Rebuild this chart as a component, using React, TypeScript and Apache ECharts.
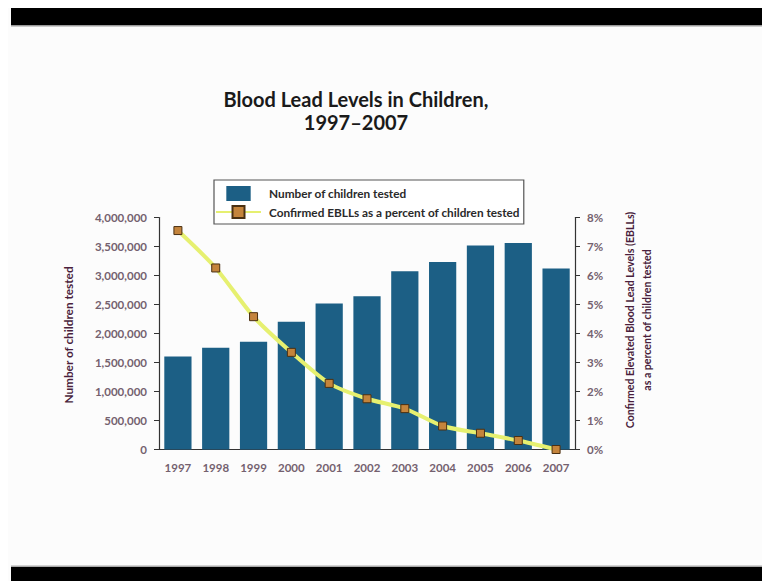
import React, { useEffect, useRef } from "react";
import * as echarts from "echarts";

const years = ["1997", "1998", "1999", "2000", "2001", "2002", "2003", "2004", "2005", "2006", "2007"];
const childrenTested = [1602000, 1756000, 1859000, 2203000, 2518000, 2644000, 3073000, 3233000, 3519000, 3559000, 3119000];
const ebllPercent = [7.55, 6.26, 4.58, 3.35, 2.28, 1.75, 1.41, 0.81, 0.56, 0.31, 0.0];

const titleText = "Blood Lead Levels in Children,\n1997\u20132007";
const leftAxisName = "Number of children tested";
const rightAxisName = "Confirmed Elevated Blood Lead Levels (EBLLs)\nas a percent of children tested";
const barName = "Number of children tested";
const lineName = "Confirmed EBLLs as a percent of children tested";

const FONT = "Lato, 'Open Sans', sans-serif";
const LABEL_COLOR = "#74616f";
const NAME_COLOR = "#4a1f3c";

export default function App() {
  const ref = useRef<HTMLDivElement>(null);
  useEffect(() => {
    if (!ref.current) return;
    const chart = echarts.init(ref.current, undefined, { renderer: "svg" });
    chart.setOption({
      animation: false,
      backgroundColor: "#fcfcfc",
      textStyle: { fontFamily: FONT },
      grid: { left: 151, right: 195, top: 209.5, bottom: 131.5, containLabel: false },
      legend: {
        orient: "vertical",
        left: 206,
        top: 172,
        padding: [6, 4, 5, 1],
        borderColor: "#555",
        borderWidth: 1.2,
        backgroundColor: "#fff",
        itemWidth: 45,
        itemHeight: 15,
        itemGap: 4,
        symbolKeepAspect: true,
        textStyle: { fontFamily: FONT, fontSize: 11.8, fontWeight: "bold", color: "#2a2a2a", padding: [0, 0, 0, 3] },
        data: [
          { name: barName, icon: "path://M0 0H26V16H0Z" },
          { name: lineName },
        ],
      },
      xAxis: {
        type: "category",
        data: years,
        axisLine: { lineStyle: { color: "#333", width: 1.2 } },
        axisTick: { inside: true, length: 4, alignWithLabel: false, lineStyle: { color: "#333" } },
        axisLabel: { color: LABEL_COLOR, fontSize: 11.5, fontWeight: "bold", margin: 12, fontFamily: FONT },
      },
      yAxis: [
        {
          type: "value",
          min: 0,
          max: 4000000,
          interval: 500000,
          position: "left",
          splitLine: { show: false },
          axisLine: { show: true, lineStyle: { color: "#333", width: 1.2 } },
          axisTick: { show: true, length: 5, lineStyle: { color: "#333" } },
          axisLabel: {
            color: LABEL_COLOR,
            fontSize: 11.5,
            fontWeight: "bold",
            margin: 12,
            fontFamily: FONT,
            formatter: (v: number) => v.toLocaleString("en-US"),
          },
        },
        {
          type: "value",
          min: 0,
          max: 8,
          interval: 1,
          position: "right",
          splitLine: { show: false },
          axisLine: { show: true, lineStyle: { color: "#333", width: 1.2 } },
          axisTick: { show: true, length: 5, lineStyle: { color: "#333" } },
          axisLabel: { color: LABEL_COLOR, fontSize: 11.5, fontWeight: "bold", margin: 12, fontFamily: FONT, formatter: "{value}%" },
        },
      ],
      series: [
        {
          name: barName,
          type: "bar",
          data: childrenTested,
          barCategoryGap: "28%",
          itemStyle: { color: "#1c5f85" },
          z: 2,
        },
        {
          name: lineName,
          type: "line",
          yAxisIndex: 1,
          data: ebllPercent,
          smooth: 0.25,
          symbol: "rect",
          symbolSize: 8,
          lineStyle: { color: "#e6f070", width: 4 },
          itemStyle: { color: "#c4843c", borderColor: "#4a3012", borderWidth: 1 },
          z: 5,
        },
      ],
      graphic: [
        { type: "rect", shape: { x: 3, y: 0, width: 759, height: 17 }, style: { fill: "#000" }, silent: true },
        { type: "rect", shape: { x: 3, y: 17, width: 759, height: 1.5 }, style: { fill: "#999" }, silent: true },
        { type: "rect", shape: { x: 3, y: 557.5, width: 759, height: 1.5 }, style: { fill: "#aaa" }, silent: true },
        { type: "rect", shape: { x: 3, y: 559, width: 759, height: 14 }, style: { fill: "#000" }, silent: true },
        {
          type: "text",
          x: 348,
          y: 102.5,
          style: {
            text: titleText,
            fontFamily: FONT,
            fontSize: 20,
            fontWeight: "bold",
            fill: "#1a1a1a",
            textAlign: "center",
            textVerticalAlign: "middle",
            lineHeight: 23,
          },
        },
        {
          type: "text",
          x: 60,
          y: 327,
          rotation: Math.PI / 2,
          style: {
            text: leftAxisName,
            fontFamily: FONT,
            fontSize: 11.8,
            fontWeight: "bold",
            fill: NAME_COLOR,
            textAlign: "center",
            textVerticalAlign: "middle",
          },
        },
        {
          type: "text",
          x: 630.5,
          y: 312,
          rotation: Math.PI / 2,
          style: {
            text: rightAxisName,
            fontFamily: FONT,
            fontSize: 10.6,
            fontWeight: "bold",
            fill: NAME_COLOR,
            textAlign: "center",
            textVerticalAlign: "middle",
            lineHeight: 17,
          },
        },
      ],
    });
    return () => chart.dispose();
  }, []);
  return <div ref={ref} style={{ width: 762, height: 573 }} />;
}
